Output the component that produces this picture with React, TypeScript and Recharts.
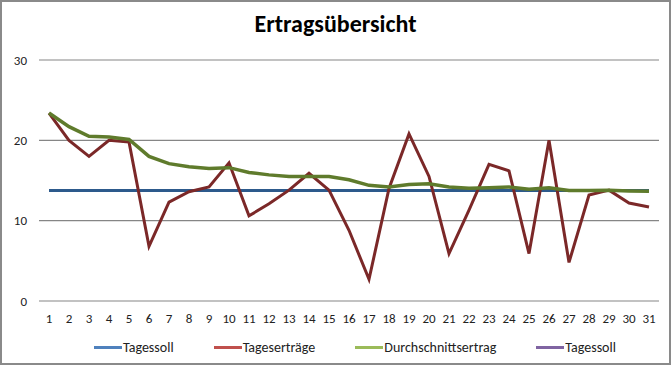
import { LineChart, Line, XAxis, YAxis, CartesianGrid, Legend } from "recharts";

const days = Array.from({ length: 31 }, (_, i) => String(i + 1));

const tagessoll = [
  13.75, 13.75, 13.75, 13.75, 13.75, 13.75, 13.75, 13.75, 13.75, 13.75, 13.75,
  13.75, 13.75, 13.75, 13.75, 13.75, 13.75, 13.75, 13.75, 13.75, 13.75, 13.75,
  13.75, 13.75, 13.75, 13.75, 13.75, 13.75, 13.75, 13.75, 13.75,
];

const tagesertraege = [
  23.4, 20.0, 18.0, 20.0, 19.8, 6.8, 12.3, 13.6, 14.2, 17.2, 10.6, 12.1, 13.8,
  15.9, 13.8, 8.8, 2.7, 14.0, 20.8, 15.5, 5.9, 11.3, 17.0, 16.2, 5.9, 20.0, 4.8,
  13.2, 13.8, 12.2, 11.7,
];

const durchschnitt = [
  23.4, 21.7, 20.5, 20.4, 20.1, 18.0, 17.1, 16.7, 16.5, 16.6, 16.0, 15.7, 15.5,
  15.5, 15.5, 15.1, 14.4, 14.2, 14.5, 14.6, 14.2, 14.05, 14.1, 14.2, 13.9, 14.1,
  13.75, 13.75, 13.8, 13.7, 13.65,
];

const yTicks = [0, 10, 20, 30];

const data = days.map((d, i) => ({
  day: d,
  soll: tagessoll[i],
  soll2: tagessoll[i],
  ertrag: tagesertraege[i],
  schnitt: durchschnitt[i],
}));

const legendItems = [
  { label: "Tagessoll", color: "#4F81BD" },
  { label: "Tageserträge", color: "#C0504D" },
  { label: "Durchschnittsertrag", color: "#9BBB59" },
  { label: "Tagessoll", color: "#8064A2" },
];

const font = "Calibri, Carlito, 'Open Sans', sans-serif";

function ExcelLegend() {
  return (
    <div style={{ display: "flex", height: 32, paddingLeft: 92, alignItems: "center", gap: 40, fontFamily: font, fontSize: 14, color: "#222" }}>
      {legendItems.map((it, i) => (
        <div key={i} style={{ display: "flex", alignItems: "center" }}>
          <span style={{ display: "inline-block", width: 28, height: 3, background: it.color, marginRight: 1 }} />
          <span>{it.label}</span>
        </div>
      ))}
    </div>
  );
}

export default function App() {
  return (
    <div style={{ position: "absolute", left: 0, top: 0, width: 671, height: 365, boxSizing: "border-box", border: "2px solid #8a8a8a", background: "#fff" }}>
      <div style={{ position: "absolute", left: 0, right: 0, top: 7, textAlign: "center", fontFamily: font, fontWeight: 700, fontSize: 24, color: "#000" }}>
        Ertragsübersicht
      </div>
      <LineChart width={667} height={361} data={data} margin={{ top: 58, right: 10, bottom: 0, left: 0 }}>
        <CartesianGrid vertical={false} stroke="#868686" strokeWidth={1.2} />
        <XAxis
          dataKey="day"
          padding={{ left: 10, right: 10 }}
          axisLine={false}
          tickLine={false}
          height={30}
          tickMargin={7}
          tick={{ fill: "#222", fontSize: 13, fontFamily: font }}
          interval={0}
        />
        <YAxis
          domain={[0, 30]}
          ticks={yTicks}
          width={37}
          axisLine={false}
          tickLine={false}
          tickMargin={6}
          tick={{ fill: "#222", fontSize: 13, fontFamily: font }}
        />
        <Legend verticalAlign="bottom" content={() => <ExcelLegend />} />
        <Line dataKey="soll2" stroke="#5C4A7A" strokeWidth={3} dot={false} isAnimationActive={false} />
        <Line dataKey="soll" stroke="#2D5A8C" strokeWidth={3} dot={false} isAnimationActive={false} />
        <Line dataKey="ertrag" stroke="#7B2828" strokeWidth={3} dot={false} isAnimationActive={false} />
        <Line dataKey="schnitt" stroke="#5F7B2C" strokeWidth={3.5} dot={false} isAnimationActive={false} />
      </LineChart>
    </div>
  );
}
